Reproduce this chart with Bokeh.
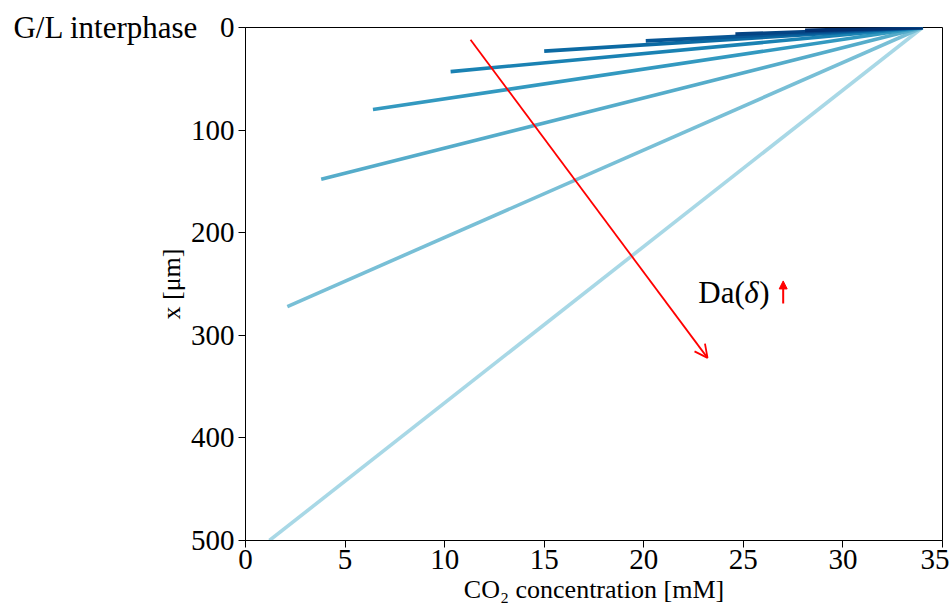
from bokeh.plotting import figure
from bokeh.models import Range1d, Label, Arrow, OpenHead, NormalHead, LinearAxis, FixedTicker
from bokeh.embed import file_html
from bokeh.resources import INLINE

# CO2 concentration profiles across the liquid film, one per Damkoehler number
surface_conc = 34.0
end_conc = [1.2, 2.1, 3.8, 6.4, 10.3, 15.0, 20.1, 24.6, 28.1]
end_depth = [500, 272, 148, 80, 43, 23, 13, 6.5, 2.8]
line_colors = ["#a8d8e6", "#78bfd6", "#55acca", "#3399c0", "#1a82b3",
               "#0c6aa3", "#075695", "#044484", "#023070"]

x_ticks = [0, 5, 10, 15, 20, 25, 30, 35]
y_ticks = [0, 100, 200, 300, 400, 500]
interface_depth = 0
interface_name = "G/L interphase"

SERIF = "Liberation Serif"

p = figure(width=949, height=607, output_backend="svg", toolbar_location=None,
           x_range=Range1d(0, 35), y_range=Range1d(500, 0),
           min_border_left=245, min_border_right=7,
           min_border_top=27, min_border_bottom=67)
p.xgrid.visible = False
p.ygrid.visible = False
p.outline_line_color = "black"
p.outline_line_width = 1
p.background_fill_color = "white"
p.border_fill_color = "white"

for ax in (p.xaxis, p.yaxis):
    ax.major_label_text_font = SERIF
    ax.major_label_text_font_size = "29px"
    ax.major_label_text_color = "black"
    ax.axis_label_text_font = SERIF
    ax.axis_label_text_font_size = "26px"
    ax.axis_label_text_font_style = "normal"
    ax.axis_label_text_color = "black"
    ax.minor_tick_line_color = None
    ax.major_tick_out = 7
    ax.major_tick_in = 0
    ax.axis_line_color = "black"
    ax.major_tick_line_color = "black"

p.xaxis.ticker = x_ticks
p.yaxis.ticker = y_ticks
p.xaxis.axis_label = "CO₂ concentration [mM]"
p.yaxis.axis_label = "x [μm]"
p.xaxis.major_label_standoff = 2
p.yaxis.major_label_standoff = 4
p.xaxis.axis_label_standoff = 3
p.yaxis.axis_label_standoff = 2

# outer left axis that only names the gas/liquid interface at depth 0
iface_axis = LinearAxis(ticker=FixedTicker(ticks=[interface_depth]),
                        major_label_overrides={interface_depth: interface_name},
                        axis_line_color=None, major_tick_line_color=None,
                        minor_tick_line_color=None, major_tick_out=0,
                        major_tick_in=0, major_label_standoff=-45,
                        major_label_text_font=SERIF,
                        major_label_text_font_size="31px",
                        major_label_text_color="black")
p.add_layout(iface_axis, "left")

xs = [[surface_conc, c] for c in end_conc]
ys = [[0, d] for d in end_depth]
p.multi_line(xs=xs, ys=ys, line_color=line_colors, line_width=3.6,
             line_cap="butt")

# trend arrow for increasing Da
p.add_layout(Arrow(end=OpenHead(size=13, line_color="red", line_width=1.8),
                   x_start=11.3, y_start=12, x_end=23.2, y_end=322,
                   line_color="red", line_width=1.8))

TY = 258
p.add_layout(Label(x=22.74, y=TY, text="Da(", text_font=SERIF,
                   text_font_size="31px", text_baseline="middle",
                   text_color="black"))
p.add_layout(Label(x=25.05, y=TY, text="δ", text_font=SERIF,
                   text_font_size="31px", text_font_style="italic",
                   text_baseline="middle", text_color="black"))
p.add_layout(Label(x=25.8, y=TY, text=")", text_font=SERIF,
                   text_font_size="31px", text_baseline="middle",
                   text_color="black"))
p.add_layout(Arrow(end=NormalHead(size=8, fill_color="red", line_color="red"),
                   x_start=27.0, y_start=269, x_end=27.0, y_end=247,
                   line_color="red", line_width=2))

open("out.html", "w").write(file_html(p, INLINE))
